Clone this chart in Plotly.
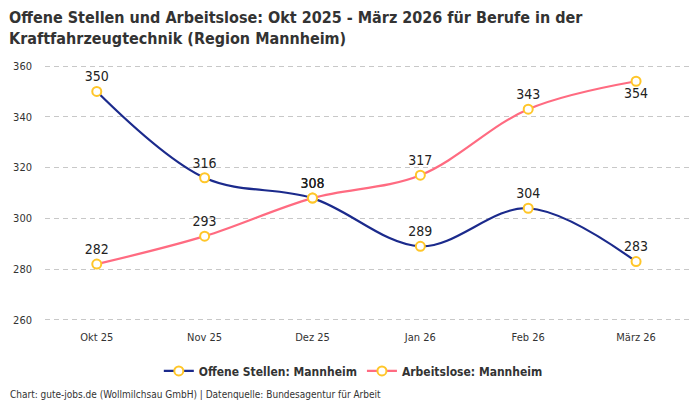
import plotly.graph_objects as go

months = ["Okt 25", "Nov 25", "Dez 25", "Jan 26", "Feb 26", "März 26"]
offene_stellen = [350, 316, 308, 289, 304, 283]
arbeitslose = [282, 293, 308, 317, 343, 354]
y_ticks = [260, 280, 300, 320, 340, 360]

font_name = "DejaVu Sans Condensed, Liberation Sans Narrow, Roboto, sans-serif"
marker_style = dict(size=9, color="white", line=dict(color="#FFC629", width=2))

fig = go.Figure()

fig.add_trace(go.Scatter(
    x=months, y=offene_stellen, name="<b>Offene Stellen: Mannheim</b>",
    mode="lines+markers+text", text=[str(v) for v in offene_stellen],
    textposition="top center", textfont=dict(size=14, color="#222"),
    line=dict(color="#1B2A8C", width=2.2, shape="spline"),
    marker=marker_style, cliponaxis=False,
))

fig.add_trace(go.Scatter(
    x=months, y=arbeitslose, name="<b>Arbeitslose: Mannheim</b>",
    mode="lines+markers+text", text=[str(v) for v in arbeitslose],
    textposition=["top center"] * 5 + ["bottom center"],
    textfont=dict(size=14, color="#222"),
    line=dict(color="#FF6B81", width=2.2, shape="spline"),
    marker=marker_style, cliponaxis=False,
))

# the page adds an 8px body margin, so the figure is drawn 8px smaller
fig.update_layout(
    width=692, height=392,
    margin=dict(l=37, r=10, t=57, b=79),
    paper_bgcolor="white", plot_bgcolor="white",
    font=dict(family=font_name, color="#333", size=11),
    legend=dict(
        orientation="h", x=0.478, xanchor="center", y=-0.195, yanchor="middle",
        font=dict(size=12, color="#333"),
    ),
    showlegend=True,
)

fig.update_xaxes(range=[-0.48, 5.5], showgrid=False, showline=False, ticks="",
                 automargin=False, ticklabelstandoff=8,
                 tickfont=dict(size=11, color="#333"))
fig.update_yaxes(range=[259.6, 360.4], tickvals=y_ticks, showgrid=True,
                 gridcolor="#C8C8C8", griddash="5px,4px", zeroline=False,
                 automargin=False, ticklabelstandoff=12,
                 tickfont=dict(size=11, color="#333"))

fig.add_annotation(
    text="<b>Offene Stellen und Arbeitslose: Okt 2025 - März 2026 für Berufe in der<br>Kraftfahrzeugtechnik (Region Mannheim)</b>",
    xref="paper", yref="paper", x=-0.057, y=1.226, xanchor="left", yanchor="top",
    align="left", showarrow=False, borderpad=0, font=dict(size=16, color="#333"),
)

fig.add_annotation(
    text="Chart: gute-jobs.de (Wollmilchsau GmbH) | Datenquelle: Bundesagentur für Arbeit",
    xref="paper", yref="paper", x=-0.057, y=-0.258, xanchor="left", yanchor="top",
    showarrow=False, font=dict(size=10, color="#333"),
)

fig.write_html("out.html")
